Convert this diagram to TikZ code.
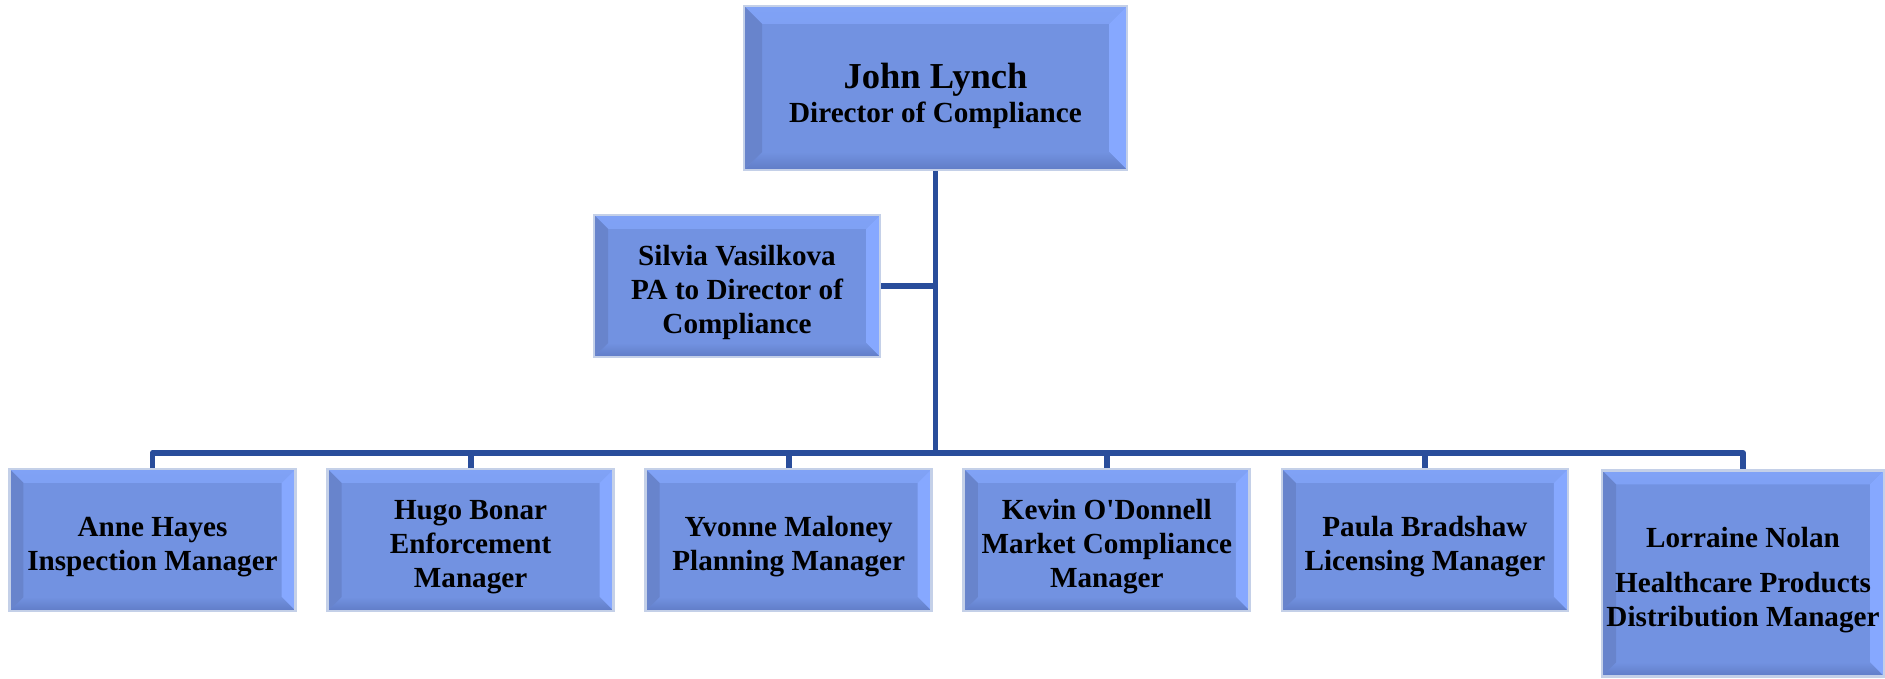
\documentclass[tikz,border=0pt]{standalone}
\usepackage{fontspec}
\setmainfont{Liberation Serif}
\usetikzlibrary{positioning}

\definecolor{boxface}{RGB}{114,146,225}
\definecolor{bevlight}{RGB}{128,162,246}
\definecolor{bevright}{RGB}{134,168,255}
\definecolor{bevdark}{RGB}{96,124,198}
\definecolor{bevleft}{RGB}{104,132,204}
\definecolor{boxrim}{RGB}{196,208,232}
\definecolor{linkblue}{RGB}{41,77,155}

\newcommand{\orgfont}{\fontsize{8.3}{9.7}\selectfont\bfseries}
\newcommand{\bossfont}{\fontsize{10.4}{12}\selectfont\bfseries}
\newcommand{\orgstrut}{\rule{0pt}{9.5pt}}

\tikzset{
  bev/.store in=\bevw, bev=0.14cm,
  orgbox/.style={draw=boxrim, line width=0.8pt, fill=boxface, align=center,
    inner sep=0pt, font=\orgfont, minimum width=2.86cm, minimum height=1.42cm,
    path picture={
      \shade[top color=bevlight, bottom color=boxface]
        (path picture bounding box.north west) -- (path picture bounding box.north east)
        -- ([shift={(-\bevw,-\bevw)}]path picture bounding box.north east)
        -- ([shift={(\bevw,-\bevw)}]path picture bounding box.north west) -- cycle;
      \fill[bevright] (path picture bounding box.north east) -- (path picture bounding box.south east)
        -- ([shift={(-\bevw,\bevw)}]path picture bounding box.south east)
        -- ([shift={(-\bevw,-\bevw)}]path picture bounding box.north east) -- cycle;
      \shade[top color=boxface, bottom color=bevdark]
        (path picture bounding box.south east) -- (path picture bounding box.south west)
        -- ([shift={(\bevw,\bevw)}]path picture bounding box.south west)
        -- ([shift={(-\bevw,\bevw)}]path picture bounding box.south east) -- cycle;
      \fill[bevleft] (path picture bounding box.south west) -- (path picture bounding box.north west)
        -- ([shift={(\bevw,-\bevw)}]path picture bounding box.north west)
        -- ([shift={(\bevw,\bevw)}]path picture bounding box.south west) -- cycle;
    }},
  orgline/.style={draw=linkblue, line width=1.7pt, line join=round},
}

\begin{document}
\begin{tikzpicture}
    \useasboundingbox (0,0) rectangle (18.85,-6.79);

    % director and PA
    \node[orgbox, bev=0.18cm, minimum width=3.83cm, minimum height=1.64cm] (director) at (9.355,-0.88)
        {\rule{0pt}{11.5pt}{\bossfont John Lynch}\\Director of Compliance};
    \node[orgbox] (pa) at (7.37,-2.86) {\orgstrut Silvia Vasilkova\\PA to Director of\\Compliance};

    % managers
    \node[orgbox] (m1) at (1.525,-5.40) {\orgstrut Anne Hayes\\Inspection Manager};
    \node[orgbox] (m2) at (4.706,-5.40) {\orgstrut Hugo Bonar\\Enforcement\\Manager};
    \node[orgbox] (m3) at (7.887,-5.40) {\orgstrut Yvonne Maloney\\Planning Manager};
    \node[orgbox] (m4) at (11.068,-5.40) {\orgstrut Kevin O\textquotesingle Donnell\\Market Compliance\\Manager};
    \node[orgbox] (m5) at (14.249,-5.40) {\orgstrut Paula Bradshaw\\Licensing Manager};
    \node[orgbox, anchor=north, minimum width=2.82cm, minimum height=2.06cm] (m6) at (17.43,-4.69)
        {\orgstrut Lorraine Nolan\\[3pt]Healthcare Products\\Distribution Manager};

    % connectors
    \coordinate (bus) at (9.35,-4.53);
    \draw[orgline] (director.south) -- (director.south |- bus);
    \draw[orgline] (pa.east) -- (pa.east -| director.south);
    \draw[orgline] (m1.north) -- (m1.north |- bus) -- (m6.north |- bus) -- (m6.north);
    \foreach \i in {2,...,5}
        \draw[orgline] (m\i.north) -- (m\i.north |- bus);
\end{tikzpicture}
\end{document}
